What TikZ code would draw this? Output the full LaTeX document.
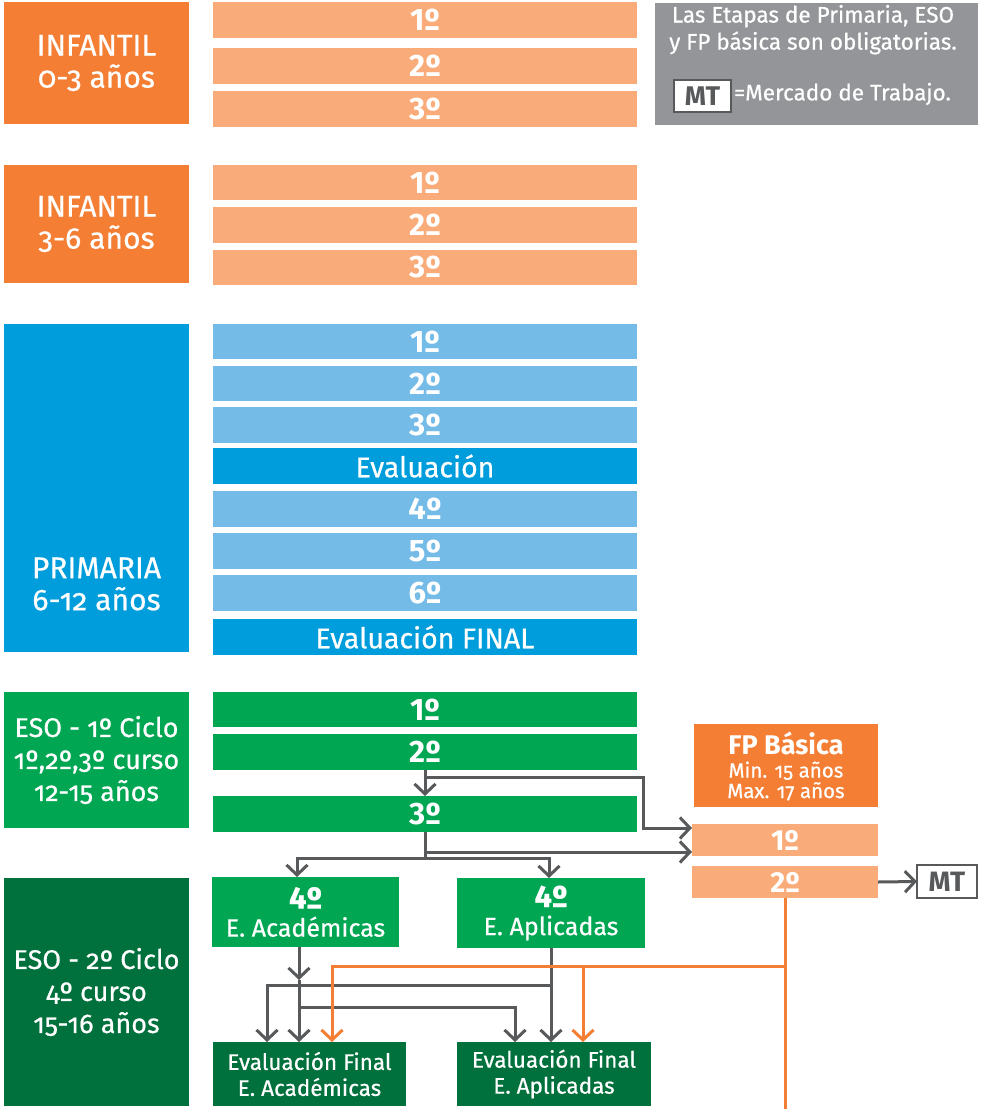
\documentclass[tikz,border=0pt]{standalone}
\usepackage{fontspec}
\setmainfont{Fira Sans}
\newfontfamily\labfont[Numbers=OldStyle,FakeBold=0.6]{Fira Sans}
\newfontfamily\medfont[FakeBold=0.6]{Fira Sans}
\usetikzlibrary{arrows.meta,calc}
\definecolor{odark}{HTML}{F47F34}
\definecolor{olight}{HTML}{F9AC79}
\definecolor{bdark}{HTML}{009DDC}
\definecolor{blight}{HTML}{74BBE7}
\definecolor{gmid}{HTML}{00A651}
\definecolor{gdark}{HTML}{00703C}
\definecolor{lgray}{HTML}{939598}
\definecolor{agray}{HTML}{58595B}
\tikzset{
  blk/.style={anchor=north west, inner sep=0pt, outer sep=0pt, text=white, align=center},
  lab/.style={blk, minimum width=185pt, font=\labfont\fontsize{30}{32}\selectfont},
  esolab/.style={blk, minimum width=185pt, font=\labfont\fontsize{27}{32}\selectfont},
  bar/.style={blk, minimum width=424pt, font=\bfseries\fontsize{31}{30}\selectfont},
  ebar/.style={blk, minimum width=424pt, font=\medfont\fontsize{28.5}{30}\selectfont},
  conn/.style={draw=agray, line width=3pt},
  arr/.style={conn, -{Straight Barb[length=10pt,width=21pt,line width=3pt]}},
  oconn/.style={draw=odark, line width=3pt},
  oarr/.style={oconn, -{Straight Barb[length=10pt,width=21pt,line width=3pt]}},
}
\begin{document}
\begin{tikzpicture}[x=1pt,y=-1pt]
\useasboundingbox (0,0) rectangle (981,1109);
% INFANTIL 0-3
\node[lab, fill=odark, minimum height=122pt] (inf1) at (4,2) {INFANTIL\\0-3 años};
\node[bar, fill=olight, minimum height=36pt] (i1a) at (213,2) {1º};
\node[bar, fill=olight, minimum height=36pt] (i1b) at (213,48) {2º};
\node[bar, fill=olight, minimum height=36pt] (i1c) at (213,91) {3º};
% INFANTIL 3-6
\node[lab, fill=odark, minimum height=118pt] (inf2) at (4,165) {INFANTIL\\3-6 años};
\node[bar, fill=olight, minimum height=35pt] (i2a) at (213,165) {1º};
\node[bar, fill=olight, minimum height=36pt] (i2b) at (213,207) {2º};
\node[bar, fill=olight, minimum height=35pt] (i2c) at (213,250) {3º};
% PRIMARIA
\node[lab, fill=bdark, minimum height=328pt] (prim) at (4,324) {};
\node[blk, anchor=center, font=\labfont\fontsize{30}{32}\selectfont] (primt) at (96.5,584) {PRIMARIA\\6-12 años};
\node[bar, fill=blight, minimum height=35pt] (p1) at (213,324) {1º};
\node[bar, fill=blight, minimum height=35pt] (p2) at (213,366) {2º};
\node[bar, fill=blight, minimum height=36pt] (p3) at (213,407) {3º};
\node[ebar, fill=bdark, minimum height=36pt] (pev) at (213,448) {Evaluación};
\node[bar, fill=blight, minimum height=36pt] (p4) at (213,491) {4º};
\node[bar, fill=blight, minimum height=36pt] (p5) at (213,533) {5º};
\node[bar, fill=blight, minimum height=36pt] (p6) at (213,575) {6º};
\node[ebar, fill=bdark, minimum height=36pt] (pevf) at (213,619) {Evaluación FINAL};
% ESO 1
\node[esolab, fill=gmid, minimum height=136pt] (eso1) at (4,692) {ESO - 1º Ciclo\\1º,2º,3º curso\\12-15 años};
\node[bar, fill=gmid, minimum height=35pt] (e1) at (213,692) {1º};
\node[bar, fill=gmid, minimum height=36pt] (e2) at (213,734) {2º};
\node[bar, fill=gmid, minimum height=36pt] (e3) at (213,796) {3º};
% ESO 2
\node[esolab, fill=gdark, minimum height=228pt] (eso2) at (4,878) {ESO - 2º Ciclo\\4º curso\\15-16 años};
\node[blk, fill=gmid, minimum width=187pt, minimum height=70pt, font=\medfont\fontsize{25}{28}\selectfont] (a4) at (212,877) {{\bfseries\fontsize{31}{30}\selectfont 4º}\\E. Académicas};
\node[blk, fill=gmid, minimum width=188pt, minimum height=70pt, font=\medfont\fontsize{25}{28}\selectfont] (ap4) at (457,878) {{\bfseries\fontsize{31}{30}\selectfont 4º}\\E. Aplicadas};
\node[blk, fill=gdark, minimum width=193pt, minimum height=64pt, font=\medfont\fontsize{22.5}{26}\selectfont] (fa) at (213,1042) {Evaluación Final\\E. Académicas};
\node[blk, fill=gdark, minimum width=194pt, minimum height=64pt, font=\medfont\fontsize{22.5}{26}\selectfont] (fap) at (457,1042) {Evaluación Final\\E. Aplicadas};
% FP Basica
\node[blk, fill=odark, minimum width=184pt, minimum height=83pt] (fp) at (694,724) {};
\node[blk, anchor=center, font=\bfseries\fontsize{27}{27}\selectfont] (fpt) at (786,743) {FP Básica};
\node[blk, anchor=center, font=\labfont\fontsize{20.5}{20.5}\selectfont] (fpt2) at (786,781) {Min. 15 años\\Max. 17 años};
\node[blk, fill=olight, minimum width=186pt, minimum height=32pt, font=\bfseries\fontsize{29}{29}\selectfont] (fp1) at (692,824) {1º};
\node[blk, fill=olight, minimum width=186pt, minimum height=32pt, font=\bfseries\fontsize{29}{29}\selectfont] (fp2) at (692,866) {2º};
\node[blk, draw=agray, line width=2pt, fill=white, text=agray, minimum width=60pt, minimum height=33pt, font=\bfseries\fontsize{28}{28}\selectfont] (mt) at (917,865) {MT};
% Legend
\node[blk, fill=lgray, minimum width=323pt, minimum height=122pt] (leg) at (655,3) {};
\node[blk, anchor=north, font=\medfont\fontsize{22.5}{27}\selectfont] (legt) at (813,5) {Las Etapas de Primaria, ESO\\y FP básica son obligatorias.};
\node[blk, draw=agray, line width=2pt, fill=white, text=agray, minimum width=57pt, minimum height=32pt, font=\bfseries\fontsize{27}{27}\selectfont] (legmt) at (674,80) {MT};
\node[blk, anchor=west, font=\medfont\fontsize{22.5}{24}\selectfont] (legtx) at (734,94) {=Mercado de Trabajo.};
% ESO connectors
\draw[arr] (e2.south) -- (e3.north);
\coordinate (b1) at ($(e2.south)+(0,7)$);
\coordinate (k1) at (643,777);
\draw[arr] (b1) -- (k1) |- ($(fp1.west)+(0,-12)$);
\coordinate (b2) at ($(e3.south)+(0,20)$);
\coordinate (b3) at ($(e3.south)+(0,26)$);
\draw[conn] (e3.south) -- (b3);
\draw[arr] (b2) -- ($(fp1.west)+(0,12)$);
\draw[arr] (b3) -| ($(a4.north west)+(85,0)$);
\draw[arr] (b3) -| ($(ap4.north west)+(92,0)$);
% bottom connectors
\coordinate (c0) at ($(a4.south west)+(87,0)$);
\coordinate (c1) at ($(a4.south west)+(87,33)$);
\draw[arr] (c0) -- (c1);
\draw[arr] (c1) -- ($(fa.north west)+(86,0)$);
\coordinate (c2) at ($(a4.south west)+(87,60)$);
\draw[arr] (c2) -| ($(fap.north west)+(58,0)$);
\coordinate (d0) at ($(ap4.south west)+(94,0)$);
\draw[arr] (d0) -- ($(fap.north west)+(94,0)$);
\coordinate (d1) at ($(ap4.south west)+(94,37)$);
\draw[arr] (d1) -| ($(fa.north west)+(54,0)$);
% orange connectors
\coordinate (o0) at (785,1109);
\draw[oconn] (fp2.south) -- (o0);
\coordinate (o1) at (785,966);
\coordinate (o2) at (583,966);
\draw[oarr] (o1) -| ($(fa.north west)+(119,0)$);
\draw[oarr] (o2) -- ($(fap.north west)+(126,0)$);
% FP to MT
\draw[arr] (fp2.east) -- (mt.west);
\end{tikzpicture}
\end{document}
